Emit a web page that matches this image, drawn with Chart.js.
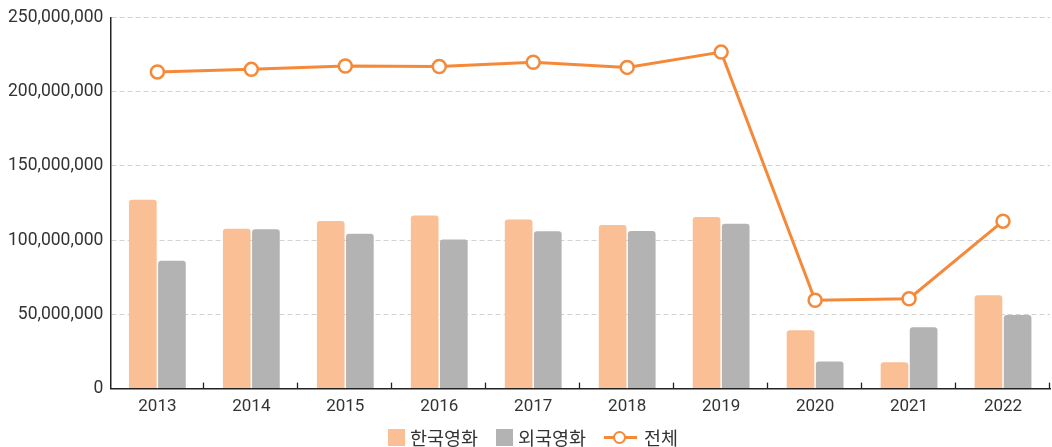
<!DOCTYPE html>
<html>
<head>
<meta charset="utf-8">
<script src="https://cdn.jsdelivr.net/npm/chart.js@4"></script>
<style>
  html, body { margin: 0; padding: 0; background: #fff; }
  #wrap { position: relative; width: 1052px; height: 447px; }
  #legend { position: absolute; left: 7px; top: 426px; width: 1052px; height: 22px;
            display: flex; justify-content: center; align-items: center;
            font-family: Roboto, 'Noto Sans CJK KR', sans-serif; font-size: 18.5px; color: #333; }
  .item { display: flex; align-items: center; margin: 0 9px; }
  .box { width: 17px; height: 17px; margin-right: 5px; }
  .lineicon { position: relative; width: 33px; height: 17px; margin-right: 7px; }
  .lineicon .bar { position: absolute; left: 0; top: 7px; width: 33px; height: 3px; }
  .lineicon .dot { position: absolute; left: 9px; top: 2px; width: 9px; height: 9px;
                   border: 2.5px solid; border-radius: 50%; background: #fff; }
</style>
</head>
<body>
<div id="wrap">
  <canvas id="audienceChart" width="1052" height="447"></canvas>
  <div id="legend"></div>
</div>
<script>
// years and audience counts (persons)
var years = ["2013", "2014", "2015", "2016", "2017", "2018", "2019", "2020", "2021", "2022"];
var koreanFilms = [127270000, 107700000, 112940000, 116560000, 113910000, 110150000, 115620000, 39250000, 17720000, 62810000];
var foreignFilms = [86070000, 107360000, 104360000, 100470000, 105970000, 106240000, 111050000, 18200000, 41300000, 49600000];
var totalAudience = [213350000, 215060000, 217300000, 217020000, 219880000, 216390000, 226680000, 59520000, 60530000, 112800000];
var seriesNames = ["한국영화", "외국영화", "전체"];

var fontName = "Roboto, 'Noto Sans CJK KR', sans-serif";
var lineColor = "rgb(245, 137, 58)";
var koreanColor = "rgb(250, 191, 148)";
var foreignColor = "rgb(179, 179, 179)";

// little tick marks pointing up from the x axis at category borders
var innerTicks = {
  id: "innerTicks",
  afterDatasetsDraw: function (chart) {
    var x = chart.scales.x;
    var ctx = chart.ctx;
    var bottom = chart.chartArea.bottom;
    var step = (x.right - x.left) / years.length;
    ctx.save();
    ctx.strokeStyle = "#222";
    ctx.lineWidth = 1.3;
    for (var i = 1; i <= years.length; i++) {
      var px = Math.round(x.left + step * i) - 0.5;
      ctx.beginPath();
      ctx.moveTo(px, bottom);
      ctx.lineTo(px, bottom - 6);
      ctx.stroke();
    }
    ctx.restore();
  }
};

Chart.defaults.font.family = fontName;
Chart.defaults.color = "#333";

new Chart(document.getElementById("audienceChart"), {
  type: "bar",
  data: {
    labels: years,
    datasets: [
      {
        type: "line",
        label: seriesNames[2],
        data: totalAudience,
        borderColor: lineColor,
        backgroundColor: "#fff",
        borderWidth: 3,
        pointRadius: 6.5,
        pointBorderWidth: 2.5,
        pointBackgroundColor: "#fff",
        pointBorderColor: lineColor,
        tension: 0,
        order: 0
      },
      {
        label: seriesNames[0],
        data: koreanFilms,
        backgroundColor: koreanColor,
        borderRadius: 3,
        borderSkipped: "bottom",
        categoryPercentage: 0.62,
        barPercentage: 0.95,
        order: 1
      },
      {
        label: seriesNames[1],
        data: foreignFilms,
        backgroundColor: foreignColor,
        borderRadius: 3,
        borderSkipped: "bottom",
        categoryPercentage: 0.62,
        barPercentage: 0.95,
        order: 1
      }
    ]
  },
  options: {
    responsive: false,
    animation: false,
    locale: "en-US",
    layout: { autoPadding: false, padding: { left: 1, right: 2, top: 8, bottom: 22 } },
    plugins: {
      tooltip: { enabled: false },
      legend: { display: false }
    },
    scales: {
      x: {
        offset: true,
        grid: { display: false, drawTicks: false },
        border: { color: "#222", width: 1.5 },
        ticks: { font: { size: 17 }, color: "#333", padding: 8 }
      },
      y: {
        min: 0,
        max: 250000000,
        grid: {
          color: "#d2d2d2",
          lineWidth: 1,
          drawTicks: false
        },
        border: { color: "#222", width: 1.5, dash: [5, 3] },
        ticks: {
          stepSize: 50000000,
          font: { size: 17.5 },
          color: "#333",
          padding: 7
        }
      }
    }
  },
  plugins: [innerTicks]
});

// legend in HTML, same order as the reference
var legend = document.getElementById("legend");
[[seriesNames[0], koreanColor, "box"], [seriesNames[1], foreignColor, "box"], [seriesNames[2], lineColor, "line"]].forEach(function (s) {
  var item = document.createElement("div");
  item.className = "item";
  if (s[2] === "box") {
    var b = document.createElement("span");
    b.className = "box";
    b.style.background = s[1];
    item.appendChild(b);
  } else {
    var ic = document.createElement("span");
    ic.className = "lineicon";
    ic.innerHTML = '<span class="bar" style="background:' + s[1] + '"></span><span class="dot" style="border-color:' + s[1] + '"></span>';
    item.appendChild(ic);
  }
  var t = document.createElement("span");
  t.textContent = s[0];
  item.appendChild(t);
  legend.appendChild(item);
});
</script>
</body>
</html>
